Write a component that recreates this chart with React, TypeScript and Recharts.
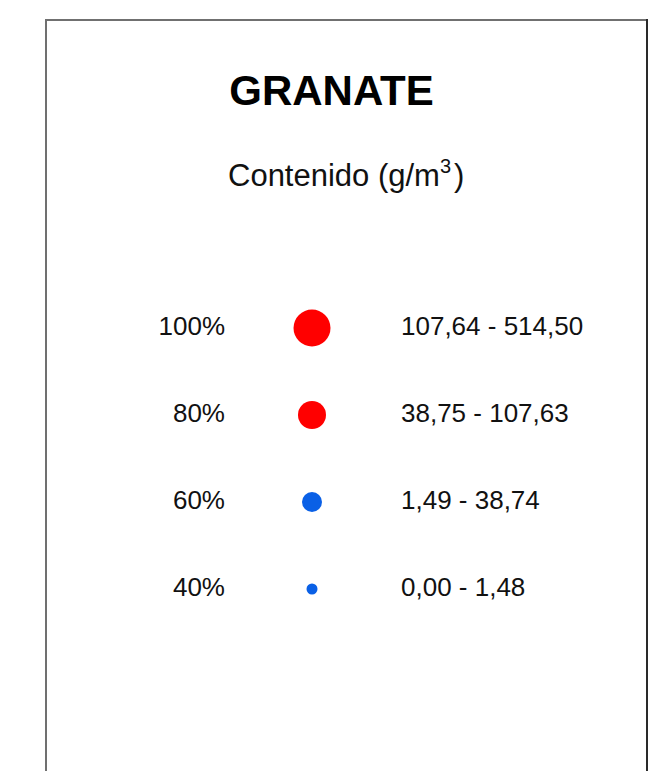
import { ScatterChart, Scatter, XAxis, YAxis } from "recharts";

const levelLabels = ["100%", "80%", "60%", "40%"];
const levelValues = [100, 80, 60, 40];
const rangeLabels = ["107,64 - 514,50", "38,75 - 107,63", "1,49 - 38,74", "0,00 - 1,48"];

// marker look per class
const dotRadius = [18.5, 14, 10, 5.5];
const dotColor = ["#ff0000", "#ff0000", "#0a60e6", "#0a60e6"];

const rows = levelValues.map((pct, i) => ({
  x: 1,
  pct,
  label: levelLabels[i],
  range: rangeLabels[i],
  r: dotRadius[i],
  color: dotColor[i],
}));

const font = "'Liberation Sans', Arial, sans-serif";

function LegendRow(props: any) {
  const { cx, cy, payload } = props;
  return (
    <g>
      <circle cx={cx} cy={cy} r={payload.r} fill={payload.color} />
      <text x={cx - 87} y={cy + 7} textAnchor="end" fontSize={26} fontFamily={font} fill="#111">
        {payload.label}
      </text>
      <text x={cx + 89} y={cy + 7} fontSize={26} fontFamily={font} fill="#111">
        {payload.range}
      </text>
    </g>
  );
}

export default function App() {
  return (
    <div style={{ position: "absolute", left: 0, top: 0, width: 663, height: 771, overflow: "hidden", background: "#fff" }}>
      <svg width={663} height={771} style={{ position: "absolute", left: 0, top: 0 }}>
        <line x1={46} y1={20} x2={647} y2={20} stroke="#707070" strokeWidth={2} />
        <line x1={46} y1={19} x2={46} y2={771} stroke="#707070" strokeWidth={2} />
        <line x1={647} y1={19} x2={647} y2={771} stroke="#2a2a2a" strokeWidth={2} />
        <text x={331.5} y={105} textAnchor="middle" fontSize={42} fontWeight="bold" fontFamily={font} fill="#000">
          GRANATE
        </text>
        <text x={228} y={186} fontSize={31} fontFamily={font} fill="#111">
          Contenido (g/m
          <tspan dy={-13} fontSize={20}>3</tspan>
          <tspan dy={13} dx={3}>)</tspan>
        </text>
      </svg>
      <div style={{ position: "absolute", left: 0, top: 0 }}>
        <ScatterChart width={663} height={771} margin={{ top: 241, right: 39, bottom: 8, left: 0 }}>
          <XAxis type="number" dataKey="x" domain={[0, 2]} hide />
          <YAxis type="number" dataKey="pct" domain={[0, 120]} hide />
          <Scatter data={rows} shape={LegendRow} isAnimationActive={false} />
        </ScatterChart>
      </div>
    </div>
  );
}
